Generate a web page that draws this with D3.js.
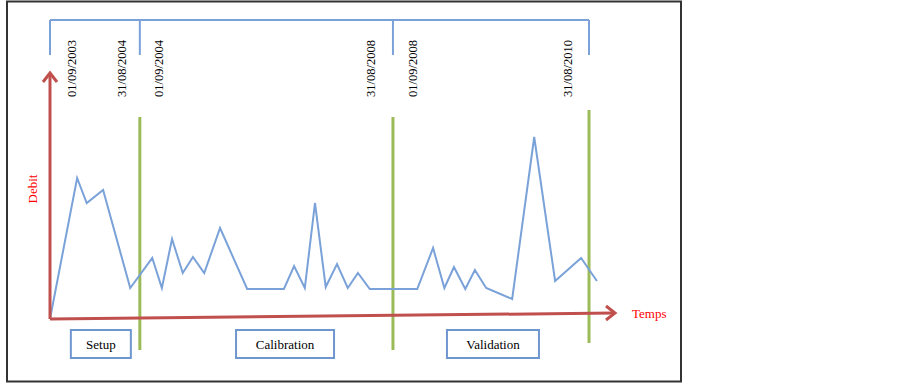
<!DOCTYPE html>
<html>
<head>
<meta charset="utf-8">
<script src="https://cdn.jsdelivr.net/npm/d3@7"></script>
<style>
  body { margin: 0; background: #fff; }
</style>
</head>
<body>
<svg width="903" height="386"></svg>
<script>
// time position (arbitrary units along the Temps axis) and flow (Debit)
var times = [0, 4.8, 6.5, 9.4, 14.2, 18.1, 19.8, 21.6, 23.5, 25.3, 27.3, 30.1, 34.9, 41.4, 43.2, 45.1,
    46.9, 48.8, 50.8, 52.7, 54.5, 56.6, 65.0, 67.8, 69.8, 71.5, 73.5, 75.2, 77.2, 81.8, 85.7, 89.4, 94.0, 96.8];
var debit = [0, 70.5, 58, 64.5, 15.5, 30.5, 15.5, 40, 23, 31, 23, 45.5, 15, 15, 26.5, 15.5,
    58, 16, 27.5, 15.5, 23, 15, 15, 35.5, 15.5, 26, 15, 24.5, 15.5, 10, 91, 19, 30.5, 19];

// period boundaries on the same time axis
var boundaries = [0, 15.9, 60.7, 95.4];
var dateLabels = [["01/09/2003", "31/08/2004"], ["01/09/2004", "31/08/2008"], ["01/09/2008", "31/08/2010"]];
var periods = ["Setup", "Calibration", "Validation"];
var periodCenters = [9.0, 41.6, 78.4];

var serif = "'Liberation Serif', 'Times New Roman', serif";

function main() {
    var svg = d3.select("svg");

    var x = d3.scaleLinear().domain([0, 100]).range([50, 615]);
    var y = d3.scaleLinear().domain([0, 100]).range([319, 119]);

    var blue = "#7aa2d8", red = "#c0504d", green = "#9bbb59";

    // outer frame
    svg.append("rect")
        .attr("x", 7).attr("y", 1.5)
        .attr("width", 674).attr("height", 380)
        .attr("fill", "none")
        .attr("stroke", "#333")
        .attr("stroke-width", 2);

    // top bracket
    var bracketY = 20, bracketEnd = 55;
    svg.append("line")
        .attr("x1", x(boundaries[0])).attr("x2", x(boundaries[3]))
        .attr("y1", bracketY).attr("y2", bracketY)
        .style("stroke", blue).style("stroke-width", 2);
    boundaries.forEach(function (b) {
        svg.append("line")
            .attr("x1", x(b)).attr("x2", x(b))
            .attr("y1", bracketY).attr("y2", bracketEnd)
            .style("stroke", blue).style("stroke-width", 2);
    });

    // date labels (rotated)
    var labelOffsets = [[22, -18], [19, -22], [20, -21]];
    dateLabels.forEach(function (pair, i) {
        var xs = [x(boundaries[i]) + labelOffsets[i][0], x(boundaries[i + 1]) + labelOffsets[i][1]];
        pair.forEach(function (t, j) {
            svg.append("text")
                .attr("transform", "translate(" + (xs[j] + 4) + ",97) rotate(-90)")
                .style("font-family", serif)
                .style("font-size", "12.5px")
                .style("fill", "#000")
                .text(t);
        });
    });

    // green period separators
    var greenTop = [117, 117, 110], greenBottom = [350, 350, 343];
    boundaries.slice(1).forEach(function (b, i) {
        svg.append("line")
            .attr("x1", x(b)).attr("x2", x(b))
            .attr("y1", greenTop[i]).attr("y2", greenBottom[i])
            .style("stroke", green).style("stroke-width", 3);
    });

    // flow line
    var pts = times.map(function (t, i) { return [t, debit[i]]; });
    svg.append("path")
        .datum(pts)
        .attr("d", d3.line().x(function (d) { return x(d[0]); }).y(function (d) { return y(d[1]); }))
        .attr("fill", "none")
        .style("stroke", blue)
        .style("stroke-width", 2)
        .style("stroke-linejoin", "miter");

    // axes (red arrows)
    svg.append("line")
        .attr("x1", x(0)).attr("y1", y(0))
        .attr("x2", x(0)).attr("y2", 74)
        .style("stroke", red).style("stroke-width", 3);
    svg.append("path")
        .attr("d", "M" + (x(0) - 7) + "," + 82 + "L" + x(0) + "," + 73 + "L" + (x(0) + 7) + "," + 82)
        .attr("fill", "none").style("stroke", red).style("stroke-width", 3);

    var axEndX = x(100), axEndY = 313;
    svg.append("line")
        .attr("x1", x(0)).attr("y1", y(0))
        .attr("x2", axEndX - 1).attr("y2", axEndY)
        .style("stroke", red).style("stroke-width", 3);
    svg.append("path")
        .attr("d", "M" + (axEndX - 9) + "," + (axEndY - 7) + "L" + axEndX + "," + axEndY + "L" + (axEndX - 9) + "," + (axEndY + 7))
        .attr("fill", "none").style("stroke", red).style("stroke-width", 3);

    svg.append("text")
        .attr("x", 632).attr("y", 318)
        .style("font-family", serif)
        .style("font-size", "13px")
        .style("fill", "#ff0000")
        .text("Temps");

    svg.append("text")
        .attr("transform", "translate(37,189) rotate(-90)")
        .attr("text-anchor", "middle")
        .style("font-family", serif)
        .style("font-size", "13px")
        .style("fill", "#ff0000")
        .text("Debit");

    // period boxes
    var boxW = [60, 98, 92];
    periods.forEach(function (p, i) {
        var cx = x(periodCenters[i]);
        svg.append("rect")
            .attr("x", cx - boxW[i] / 2).attr("y", 330)
            .attr("width", boxW[i]).attr("height", 28)
            .attr("fill", "#fff")
            .style("stroke", "#6f96cf").style("stroke-width", 2);
        svg.append("text")
            .attr("x", cx).attr("y", 349)
            .attr("text-anchor", "middle")
            .style("font-family", serif)
            .style("font-size", "13px")
            .text(p);
    });
}
main();
</script>
</body>
</html>
